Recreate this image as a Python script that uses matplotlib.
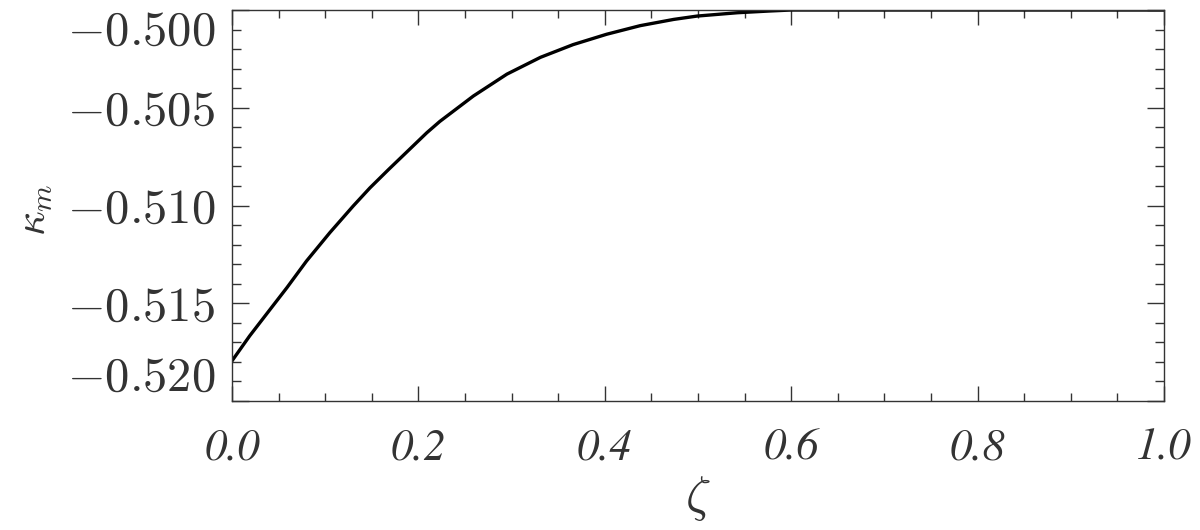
import numpy as np
import matplotlib
matplotlib.use("Agg")
import matplotlib.pyplot as plt
from matplotlib.ticker import FixedLocator, MultipleLocator, FuncFormatter

# curve
zeta = [0.000, 0.019, 0.041, 0.059, 0.080, 0.105, 0.130, 0.148, 0.168,
        0.209, 0.223, 0.259, 0.295, 0.331, 0.366, 0.402, 0.438, 0.474,
        0.499, 0.542, 0.577, 0.600, 0.700, 0.800, 0.900, 1.000]
kappa_m = [-0.51795, -0.51667, -0.51531, -0.51420, -0.51284, -0.51139,
           -0.51003, -0.50910, -0.50816, -0.50628, -0.50570, -0.50440,
           -0.50328, -0.50242, -0.50177, -0.50124, -0.50080, -0.50048,
           -0.50031, -0.50014, -0.50005, -0.50000, -0.50000, -0.50000,
           -0.50000, -0.50000]

yticks = [-0.520, -0.515, -0.510, -0.505, -0.500]
xticks = [0.0, 0.2, 0.4, 0.6, 0.8, 1.0]

plt.rcParams['mathtext.fontset'] = 'cm'

fig = plt.figure(figsize=(12, 5.3), dpi=100)
ax = fig.add_axes([0.1933, 0.2434, 0.7767, 0.7377])

ax.plot(zeta, kappa_m, color='black', lw=2.4, solid_joinstyle='round')

ax.set_xlim(0, 1)
ax.set_ylim(-0.520, -0.500)

ax.xaxis.set_major_locator(FixedLocator(xticks))
ax.xaxis.set_minor_locator(MultipleLocator(0.05))
ax.yaxis.set_major_locator(FixedLocator(yticks))
ax.yaxis.set_minor_locator(MultipleLocator(0.001))

ax.yaxis.set_major_formatter(FuncFormatter(lambda v, p: r'$-$%.3f' % abs(v)))
ax.xaxis.set_major_formatter(FuncFormatter(lambda v, p: '%.1f' % v))

for s in ax.spines.values():
    s.set_linewidth(1.0)
    s.set_color('#333333')

ax.tick_params(which='both', direction='in', top=True, right=True,
               color='#333333', width=1.0)
ax.tick_params(axis='y', which='major', length=12, pad=12, labelsize=35)
ax.tick_params(axis='y', which='minor', length=6.5)
ax.tick_params(axis='x', which='major', length=11, pad=20, labelsize=32)
ax.tick_params(axis='x', which='minor', length=6)

for lab in ax.get_xticklabels():
    lab.set_fontfamily('STIXGeneral')
    lab.set_style('italic')
    lab.set_color('#333333')
for lab in ax.get_yticklabels():
    lab.set_fontfamily('cmr10')
    lab.set_color('#333333')

yt = ax.yaxis.get_major_ticks()
yt[0].label1.set_va('bottom')
yt[-1].label1.set_va('top')

ax.set_xlabel(r'$\zeta$', fontsize=36, labelpad=4, color='#333333')
ax.set_ylabel(r'$\kappa_m$', fontsize=31, color='#333333')
ax.yaxis.set_label_coords(-0.19, 0.49)

fig.savefig('out.png', dpi=100)
